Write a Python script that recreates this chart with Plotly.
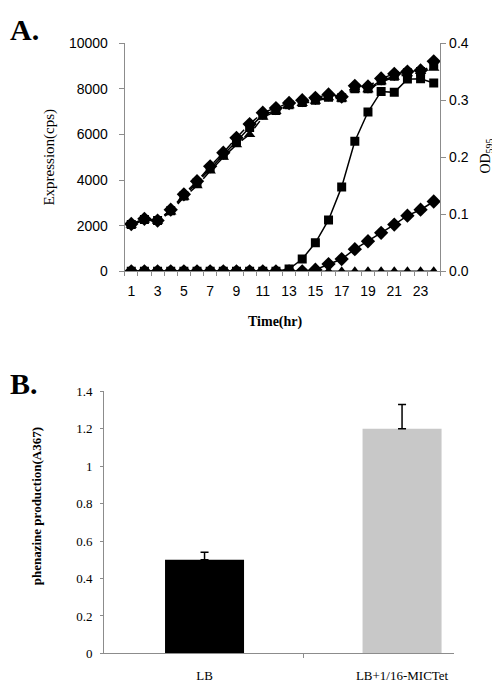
import plotly.graph_objects as go

# ---------------- Data ----------------
hours = list(range(1, 25))
hour_ticks = [1, 3, 5, 7, 9, 11, 13, 15, 17, 19, 21, 23]
expr_ticks = [0, 2000, 4000, 6000, 8000, 10000]
od_ticks = [0.0, 0.1, 0.2, 0.3, 0.4]

# Expression (cps), left axis
expr_square = [0, 0, 0, 0, 0, 0, 0, 0, 0, 0, 0, 0, 100, 540, 1250, 2250, 3700, 5700, 6980, 7880, 7840, 8420, 8440, 8250]
expr_diamond = [0, 0, 0, 0, 0, 0, 0, 0, 0, 0, 0, 0, 0, 0, 70, 320, 540, 970, 1320, 1690, 2050, 2440, 2700, 3060]
expr_triangle = [0] * 24

# OD595, right axis
od_square = [0.082, 0.091, 0.089, 0.106, 0.132, 0.155, 0.180, 0.204, 0.228, 0.252, 0.274, 0.282,
             0.292, 0.296, 0.300, 0.305, 0.304, 0.320, 0.320, 0.334, 0.342, 0.348, 0.350, 0.362]
od_diamond = [0.083, 0.092, 0.089, 0.108, 0.135, 0.158, 0.184, 0.208, 0.234, 0.258, 0.278, 0.286,
              0.295, 0.300, 0.304, 0.310, 0.306, 0.325, 0.324, 0.338, 0.346, 0.350, 0.352, 0.368]
od_triangle = [0.081, 0.090, 0.088, 0.104, 0.130, 0.150, 0.176, 0.200, 0.222, 0.240, 0.270, 0.280,
               0.290, 0.294, 0.298, 0.304, 0.302, 0.318, 0.318, 0.332, 0.340, 0.346, 0.350, 0.356]

# Panel B
b_categories = ["LB", "LB+1/16-MICTet"]
b_positions = [0, 1]
b_values = [0.50, 1.20]
b_errors = [0.04, 0.13]
b_colors = ["#000000", "#c8c8c8"]
b_ticks = [0, 0.2, 0.4, 0.6, 0.8, 1.0, 1.2, 1.4]

W, H = 500, 682

def px_x(p):
    return p / W

def px_y(p):
    return 1 - p / H

fig = go.Figure()

# Panel A - OD growth curves (dashed)
for vals, sym, sz in [(od_square, "square", 9), (od_diamond, "diamond", 11), (od_triangle, "triangle-up", 10)]:
    fig.add_trace(go.Scatter(x=hours, y=vals, mode="lines+markers", xaxis="x", yaxis="y2",
                             line=dict(color="black", width=1.5, dash="dash"),
                             marker=dict(symbol=sym, size=sz, color="black"), showlegend=False))
# Panel A - expression curves (solid)
for vals, sym, sz in [(expr_triangle, "triangle-up", 10), (expr_diamond, "diamond", 11), (expr_square, "square", 9)]:
    fig.add_trace(go.Scatter(x=hours, y=vals, mode="lines+markers", xaxis="x", yaxis="y",
                             line=dict(color="black", width=1.5),
                             marker=dict(symbol=sym, size=sz, color="black"), showlegend=False))

# Panel B bars
fig.add_trace(go.Bar(x=b_positions, y=b_values, xaxis="x3", yaxis="y3", width=0.4,
                     marker=dict(color=b_colors, line=dict(width=0)),
                     error_y=dict(type="data", array=b_errors, symmetric=False,
                                  arrayminus=[0, 0], color="black", thickness=1.5, width=4),
                     showlegend=False))

axis_gray = "#8c8c8c"
sans = "Liberation Sans"
serif = "Liberation Serif"

fig.update_layout(
    width=W, height=H, margin=dict(l=0, r=0, t=0, b=0),
    paper_bgcolor="white", plot_bgcolor="white",
    xaxis=dict(domain=[px_x(116.7), px_x(432.3)], range=[0.5, 24.5],
               tickvals=hour_ticks, ticktext=[str(h) for h in hour_ticks],
               showgrid=False, zeroline=False, showline=True, linecolor=axis_gray, linewidth=1,
               ticks="outside", ticklen=0, tickcolor=axis_gray,
               minor=dict(ticks="outside", tick0=0.5, dtick=1, ticklen=4, tickcolor=axis_gray),
               tickfont=dict(family=sans, size=14, color="black"), anchor="y", ticklabelstandoff=7),
    yaxis=dict(domain=[px_y(261.5), px_y(27.7)], range=[0, 10000], tickvals=expr_ticks,
               ticktext=[str(v) for v in expr_ticks],
               showgrid=False, zeroline=False, showline=True, linecolor=axis_gray, linewidth=1,
               ticks="outside", ticklen=5, tickcolor=axis_gray, ticklabelstandoff=8,
               tickfont=dict(family=sans, size=14, color="black"), anchor="x"),
    yaxis2=dict(overlaying="y", side="right", range=[0, 0.4], tickvals=od_ticks,
                ticktext=["%.1f" % v for v in od_ticks],
                showgrid=False, zeroline=False, showline=True, linecolor=axis_gray, linewidth=1,
                ticks="outside", ticklen=5, tickcolor=axis_gray, anchor="x",
                tickfont=dict(family=sans, size=14, color="black")),
    xaxis3=dict(domain=[px_x(96), px_x(446)], range=[-0.509, 1.263],
                tickvals=b_positions, ticktext=b_categories, ticks="",
                minor=dict(ticks="outside", tickvals=[0.5], ticklen=4, tickcolor=axis_gray),
                showgrid=False, zeroline=False, showline=True, linecolor=axis_gray, linewidth=1,
                tickfont=dict(family=serif, size=13, color="black"), anchor="y3", ticklabelstandoff=10),
    yaxis3=dict(domain=[px_y(652.7), px_y(384.3)], range=[0, 1.4],
                tickvals=b_ticks, ticktext=["%g" % v for v in b_ticks],
                showgrid=False, zeroline=False, showline=True, linecolor=axis_gray, linewidth=1,
                ticks="outside", ticklen=3, tickcolor=axis_gray, ticklabelstandoff=5,
                tickfont=dict(family=serif, size=13, color="black"), anchor="x3"),
    annotations=[
        dict(text="<b>A.</b>", x=0, y=px_y(14), xref="paper", yref="paper", xanchor="left", yanchor="middle",
             showarrow=False, font=dict(family=serif, size=30, color="black")),
        dict(text="<b>B.</b>", x=0, y=px_y(376), xref="paper", yref="paper", xanchor="left", yanchor="middle",
             showarrow=False, font=dict(family=serif, size=30, color="black")),
        dict(text="Expression(cps)", x=px_x(42), y=px_y(145), xref="paper", yref="paper", textangle=-90,
             xanchor="center", yanchor="middle", showarrow=False, font=dict(family=serif, size=15, color="black")),
        dict(text="OD<sub>595</sub>", x=px_x(479), y=px_y(144), xref="paper", yref="paper", textangle=-90,
             xanchor="center", yanchor="middle", showarrow=False, font=dict(family=serif, size=14, color="black")),
        dict(text="<b>Time(hr)</b>", x=px_x(267), y=px_y(313), xref="paper", yref="paper",
             xanchor="center", yanchor="middle", showarrow=False, font=dict(family=serif, size=14, color="black")),
        dict(text="<b>phenazine production(A367)</b>", x=px_x(28), y=px_y(502), xref="paper", yref="paper",
             textangle=-90, xanchor="center", yanchor="middle", showarrow=False,
             font=dict(family=serif, size=13, color="black")),
    ],
)

fig.write_html("out.html")
